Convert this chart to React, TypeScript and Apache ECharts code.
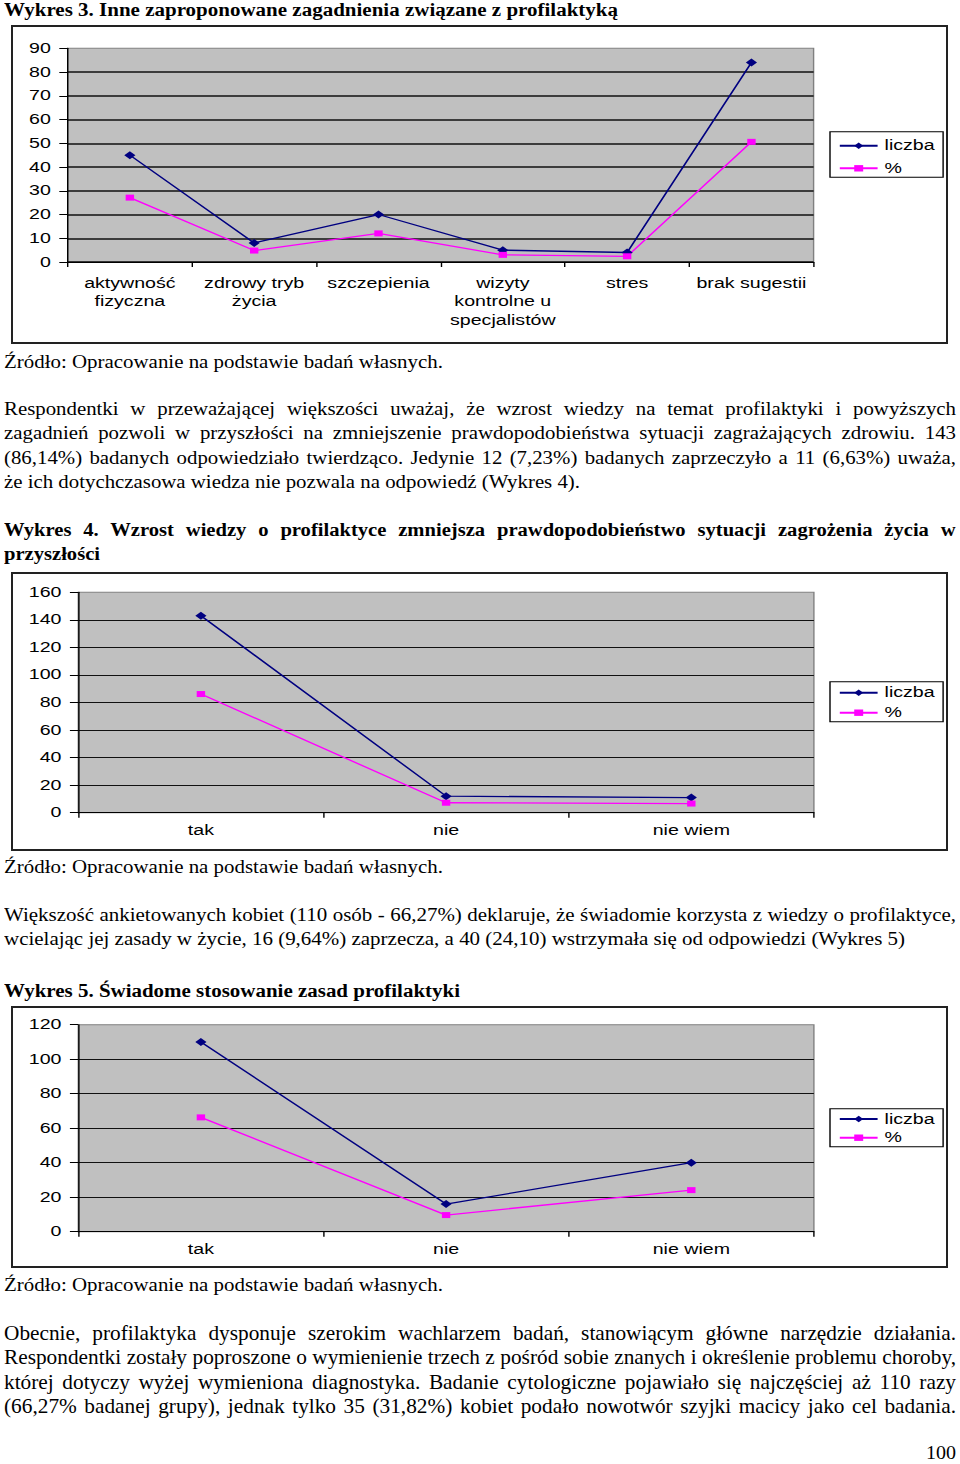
import React, { useEffect, useRef } from "react";
import * as echarts from "echarts";

// ---------- data ----------
const cats3 = [
  "aktywność\nfizyczna",
  "zdrowy tryb\nżycia",
  "szczepienia",
  "wizyty\nkontrolne u\nspecjalistów",
  "stres",
  "brak sugestii",
];
const liczba3 = [45, 8, 20, 5, 4, 84];
const pct3 = [27.11, 4.82, 12.05, 3.01, 2.41, 50.6];

const cats4 = ["tak", "nie", "nie wiem"];
const liczba4 = [143, 12, 11];
const pct4 = [86.14, 7.23, 6.63];

const cats5 = ["tak", "nie", "nie wiem"];
const liczba5 = [110, 16, 40];
const pct5 = [66.27, 9.64, 24.1];

const seriesNames = ["liczba", "%"];

// ---------- texts ----------
const title3 = ["Wykres 3. Inne zaproponowane zagadnienia związane z profilaktyką"];
const source = ["Źródło: Opracowanie na podstawie badań własnych."];
const para1 = [
  "Respondentki w przeważającej większości uważaj, że wzrost wiedzy na temat profilaktyki i powyższych",
  "zagadnień pozwoli w przyszłości na zmniejszenie prawdopodobieństwa sytuacji zagrażających zdrowiu. 143",
  "(86,14%) badanych odpowiedziało twierdząco. Jedynie 12 (7,23%) badanych zaprzeczyło a 11 (6,63%) uważa,",
  "że ich dotychczasowa wiedza nie pozwala na odpowiedź (Wykres 4).",
];
const title4 = [
  "Wykres 4. Wzrost wiedzy o profilaktyce zmniejsza prawdopodobieństwo sytuacji zagrożenia życia w",
  "przyszłości",
];
const para2 = [
  "Większość ankietowanych kobiet (110 osób - 66,27%) deklaruje, że świadomie korzysta z wiedzy o profilaktyce,",
  "wcielając jej zasady w życie, 16 (9,64%) zaprzecza, a 40 (24,10) wstrzymała się od odpowiedzi (Wykres 5)",
];
const title5 = ["Wykres 5. Świadome stosowanie zasad profilaktyki"];
const para3 = [
  "Obecnie, profilaktyka dysponuje szerokim wachlarzem badań, stanowiącym główne narzędzie działania.",
  "Respondentki zostały poproszone o wymienienie trzech z pośród sobie znanych i określenie problemu choroby,",
  "której dotyczy wyżej wymieniona diagnostyka. Badanie cytologiczne pojawiało się najczęściej aż 110 razy",
  "(66,27% badanej grupy), jednak tylko 35 (31,82%) kobiet podało nowotwór szyjki macicy jako cel badania.",
];
const pageNo = ["100"];

// ---------- helpers ----------
const SERIF = '"Liberation Serif", "Times New Roman", serif';
const SANS = '"Liberation Sans", Arial, sans-serif';
const S = 1.4; // horizontal stretch of the embedded chart pictures

let ctx: CanvasRenderingContext2D | null = null;
function measure(text: string, size: number, bold: boolean): number {
  if (!ctx) ctx = document.createElement("canvas").getContext("2d");
  ctx!.font = `${bold ? "bold " : ""}${size}px "Liberation Serif"`;
  return ctx!.measureText(text).width;
}

type ParaProps = {
  lines: string[];
  baselines: number[];
  size?: number;
  bold?: boolean;
  lastWidth?: number;
  left?: number;
  width?: number;
  lh?: number;
};

function Para({ lines, baselines, size = 18, bold = false, lastWidth, left = 4, width = 952, lh = 24 }: ParaProps) {
  const LH = lh;
  const off = (LH - 1.107 * size) / 2 + 0.891 * size;
  const nat = lines.map((l) => measure(l, size, bold));
  const sx = lastWidth !== undefined ? lastWidth / nat[nat.length - 1] : (width - 2) / Math.max(...nat);
  return (
    <>
      {lines.map((line, i) => {
        const isLast = i === lines.length - 1;
        const justify = !(isLast && lastWidth !== undefined);
        let scale = sx;
        let ws = 0;
        if (justify) {
          const spaces = (line.match(/ /g) || []).length;
          if (nat[i] * sx > width) scale = width / nat[i];
          else if (spaces > 0) ws = (width - nat[i] * sx) / spaces / sx;
        }
        return (
          <div
            key={i}
            style={{
              position: "absolute",
              left,
              top: baselines[i] - off,
              whiteSpace: "pre",
              fontFamily: SERIF,
              fontSize: size,
              lineHeight: LH + "px",
              fontWeight: bold ? "bold" : "normal",
              wordSpacing: ws + "px",
              transform: `scaleX(${scale})`,
              transformOrigin: "0 0",
              color: "#000",
            }}
          >
            {line}
          </div>
        );
      })}
    </>
  );
}

type ChartProps = {
  box: number[]; // page coords x1,y1,x2,y2
  plot: number[]; // page coords x1,y1,x2,y2
  cats: string[];
  liczba: number[];
  pct: number[];
  yMax: number;
  yInt: number;
  labelMargin: number;
  labelLH: number;
  legendTop: number;
  legendGap: number;
  legendPad: number[];
  gridW: number;
};

function LineChart(p: ChartProps) {
  const ref = useRef<HTMLDivElement>(null);
  const [bx, by, bx2, by2] = p.box;
  const W = (bx2 - bx) / S;
  const H = by2 - by;
  useEffect(() => {
    const chart = echarts.init(ref.current!, null, { renderer: "svg" });
    const [px, py, px2, py2] = p.plot;
    chart.setOption({
      animation: false,
      textStyle: { fontFamily: SANS, color: "#000" },
      grid: {
        left: (px - bx) / S,
        right: (bx2 - px2) / S,
        top: py - by,
        bottom: by2 - py2,
        show: true,
        backgroundColor: "#c0c0c0",
        borderColor: "#808080",
        borderWidth: 1,
        containLabel: false,
      },
      legend: {
        orient: "vertical",
        left: (830 - bx) / S,
        top: p.legendTop - by,
        itemWidth: 27,
        itemHeight: 8,
        itemGap: p.legendGap,
        padding: p.legendPad,
        borderColor: "#000",
        borderWidth: 1,
        backgroundColor: "#fff",
        textStyle: { fontFamily: SANS, fontSize: 14, lineHeight: 14, color: "#000" },
        data: seriesNames,
      },
      xAxis: {
        type: "category",
        data: p.cats,
        boundaryGap: true,
        axisLine: { show: true, lineStyle: { color: "#000", width: 1 } },
        axisTick: { show: true, length: 5, interval: 0, lineStyle: { color: "#000" } },
        axisLabel: {
          interval: 0,
          margin: p.labelMargin,
          color: "#000",
          fontFamily: SANS,
          fontSize: 14,
          lineHeight: p.labelLH,
        },
        splitLine: { show: false },
      },
      yAxis: {
        type: "value",
        min: 0,
        max: p.yMax,
        interval: p.yInt,
        axisLine: { show: true, lineStyle: { color: "#000" } },
        axisTick: { show: true, length: 6, lineStyle: { color: "#000" } },
        axisLabel: { margin: 12, color: "#000", fontFamily: SANS, fontSize: 14 },
        splitLine: { show: true, showMaxLine: false, lineStyle: { color: "#111", width: p.gridW } },
      },
      series: [
        {
          name: seriesNames[0],
          type: "line",
          data: p.liczba,
          symbol: "diamond",
          symbolSize: 8,
          lineStyle: { color: "#000080", width: 1.3 },
          itemStyle: { color: "#000080" },
          emphasis: { disabled: true },
        },
        {
          name: seriesNames[1],
          type: "line",
          data: p.pct,
          symbol: "rect",
          symbolSize: 6,
          lineStyle: { color: "#ff00ff", width: 1.3 },
          itemStyle: { color: "#ff00ff" },
          emphasis: { disabled: true },
        },
      ],
    });
    return () => chart.dispose();
  }, []);
  return (
    <>
      <div
        ref={ref}
        style={{
          position: "absolute",
          left: bx,
          top: by,
          width: W,
          height: H,
          transform: `scaleX(${S})`,
          transformOrigin: "0 0",
        }}
      />
      <div
        style={{
          position: "absolute",
          left: bx,
          top: by,
          width: bx2 - bx,
          height: by2 - by,
          border: "2px solid #222",
          boxSizing: "border-box",
          pointerEvents: "none",
        }}
      />
    </>
  );
}

export default function App() {
  return (
    <div
      style={{
        position: "absolute",
        left: 0,
        top: 0,
        width: 960,
        height: 1464,
        overflow: "hidden",
        background: "#fff",
      }}
    >
      <Para lines={title3} baselines={[16]} bold lastWidth={614} />
      <LineChart
        box={[11, 25, 948, 344]}
        plot={[67.7, 48.3, 814, 262]}
        cats={cats3}
        liczba={liczba3}
        pct={pct3}
        yMax={90}
        yInt={10}
        labelMargin={12}
        labelLH={18.5}
        legendTop={131.7}
        legendGap={8.6}
        legendPad={[7, 6, 2, 6]}
        gridW={1.6}
      />
      <Para lines={source} baselines={[368]} size={19} lastWidth={439} />
      <Para lines={para1} baselines={[415, 439.3, 463.6, 488]} lastWidth={576} />
      <Para lines={title4} baselines={[536.5, 560.5]} bold lastWidth={96} />
      <LineChart
        box={[11, 572, 948, 851]}
        plot={[78.3, 592.3, 814.3, 812.7]}
        cats={cats4}
        liczba={liczba4}
        pct={pct4}
        yMax={160}
        yInt={20}
        labelMargin={10.5}
        labelLH={14}
        legendTop={681.7}
        legendGap={6}
        legendPad={[4, 6, 2, 6]}
        gridW={1.2}
      />
      <Para lines={source} baselines={[873]} size={19} lastWidth={439} />
      <Para lines={para2} baselines={[921, 945]} lastWidth={901} />
      <Para lines={title5} baselines={[997]} bold lastWidth={456} />
      <LineChart
        box={[11, 1006, 948, 1268]}
        plot={[78.3, 1024.7, 814.3, 1231.7]}
        cats={cats5}
        liczba={liczba5}
        pct={pct5}
        yMax={120}
        yInt={20}
        labelMargin={10.5}
        labelLH={14}
        legendTop={1108.7}
        legendGap={4.7}
        legendPad={[3.3, 6, 2, 6]}
        gridW={1.2}
      />
      <Para lines={source} baselines={[1291]} size={19} lastWidth={439} />
      <Para lines={para3} baselines={[1340, 1364.3, 1388.6, 1413]} size={21} />
      <Para lines={pageNo} baselines={[1459]} left={926} lastWidth={30} size={19} lh={20} />
    </div>
  );
}
